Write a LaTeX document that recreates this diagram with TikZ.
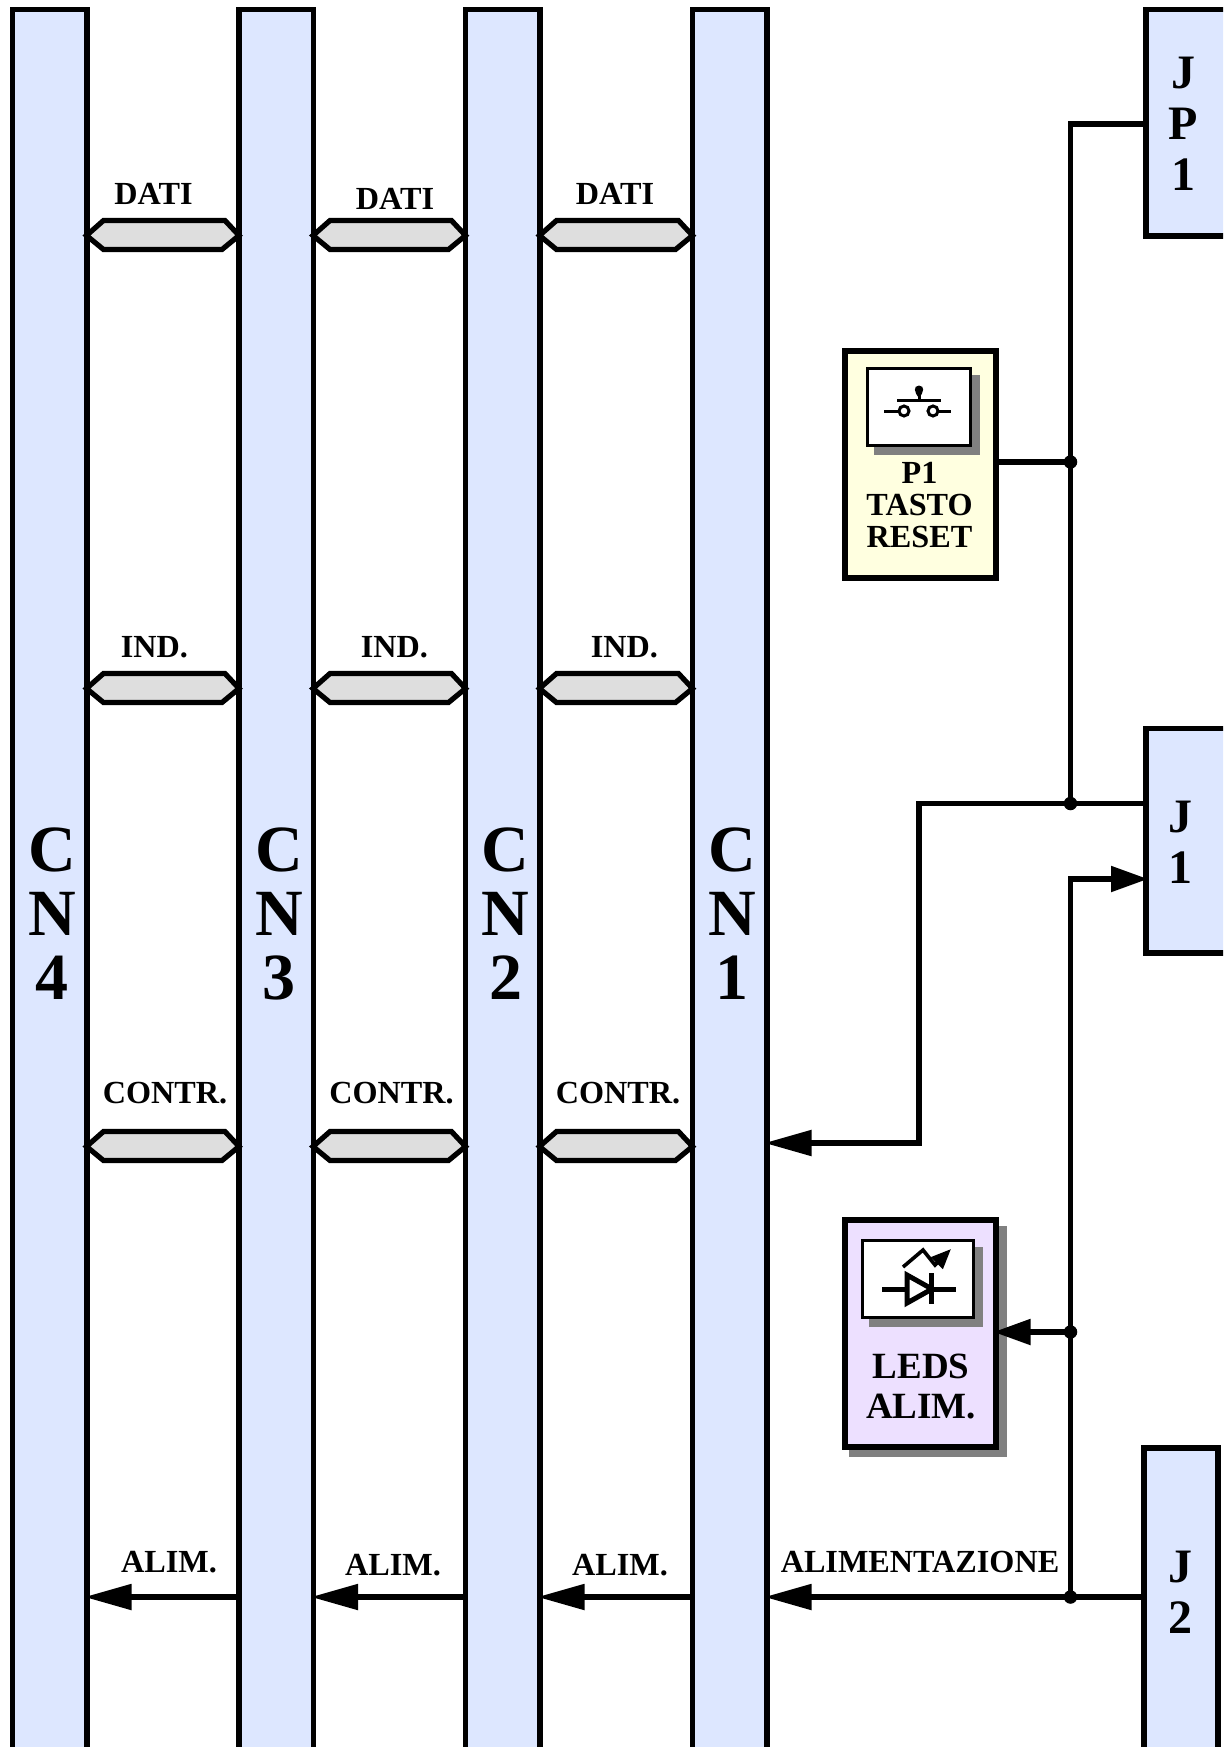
\documentclass[tikz,border=0pt]{standalone}
\usepackage{fontspec}
\setmainfont{Liberation Serif}[BoldFont={Liberation Serif Bold}]
\usetikzlibrary{arrows.meta,calc}
\definecolor{barblue}{HTML}{DDE7FF}
\definecolor{busgray}{HTML}{DEDEDE}
\definecolor{keyyellow}{HTML}{FFFFE0}
\definecolor{ledviolet}{HTML}{EDE0FF}
\definecolor{shadowgray}{HTML}{808080}
\newcommand\busbar[3]{\draw[busshape] ($(#1.east |- 0,#3)+(-3,0)$) -- ++(17,-15) -- ($(#2.west |- 0,#3)+(-14,-15)+(3,0)$) -- ($(#2.west |- 0,#3)+(3,0)$) -- ++(-17,14) -- ($(#1.east |- 0,#3)+(14,14)$) -- cycle;}
\tikzset{
  x=1pt,y=-1pt,
  barbox/.style={draw=black,line width=5.5pt,fill=barblue,inner sep=0pt,anchor=north west},
  panelbox/.style={draw=black,line width=5.5pt,inner sep=0pt,anchor=north west},
  iconbox/.style={draw=black,line width=2.8pt,fill=white,inner sep=0pt,anchor=north west},
  busshape/.style={draw=black,line width=5.2pt,fill=busgray,line join=miter},
  wire/.style={draw=black,line width=5.2pt,line join=miter},
  longarrow/.style={wire,shorten >=-5pt,-{Triangle[length=47pt,width=25pt]}},
  shortarrow/.style={wire,shorten >=-5pt,-{Triangle[length=37pt,width=25pt]}},
  junction/.style={circle,fill=black,inner sep=0pt,minimum size=13.5pt},
  smalltxt/.style={font=\fontsize{32.2}{32}\selectfont\bfseries,inner sep=0pt,align=center},
  bigtxt/.style={font=\fontsize{66}{64}\selectfont\bfseries,inner sep=0pt,align=center},
  midtxt/.style={font=\fontsize{48}{51}\selectfont\bfseries,inner sep=0pt,align=center},
  ledtxt/.style={font=\fontsize{37}{40}\selectfont\bfseries,inner sep=0pt,align=center},
  symline/.style={draw=black,line width=3pt},
  symthick/.style={draw=black,line width=5pt},
}
\begin{document}
\begin{tikzpicture}
\clip (0,0) rectangle (1223,1747);
\fill[white] (0,0) rectangle (1223,1747);
% connector bars
\node[barbox,minimum width=74.5pt,minimum height=1742pt] (cn4) at (9.5,7) {};
\node[barbox,minimum width=74.5pt,minimum height=1742pt] (cn3) at (236,7) {};
\node[barbox,minimum width=74.5pt,minimum height=1742pt] (cn2) at (462.5,7) {};
\node[barbox,minimum width=74.5pt,minimum height=1742pt] (cn1) at (689.5,7) {};
\node[bigtxt] (cn4t) at (52,914) {C\\N\\4};
\node[bigtxt] (cn3t) at (279,914) {C\\N\\3};
\node[bigtxt] (cn2t) at (505.5,914) {C\\N\\2};
\node[bigtxt] (cn1t) at (732,914) {C\\N\\1};
% right connectors
\node[barbox,minimum width=90pt,minimum height=226pt] (jp1) at (1143,7) {};
\node[barbox,minimum width=90pt,minimum height=224.5pt] (j1) at (1143,725.5) {};
\node[barbox,minimum width=74pt,minimum height=320pt] (j2) at (1141,1445) {};
\node[midtxt] (jp1t) at (1183.5,124) {J\\P\\1};
\node[midtxt] (j1t) at (1180.5,842.5) {J\\1};
\node[midtxt] (j2t) at (1180.5,1592.5) {J\\2};
% buses
\busbar{cn4}{cn3}{235.5}
\busbar{cn3}{cn2}{235.5}
\busbar{cn2}{cn1}{235.5}
\busbar{cn4}{cn3}{688.5}
\busbar{cn3}{cn2}{688.5}
\busbar{cn2}{cn1}{688.5}
\busbar{cn4}{cn3}{1146.5}
\busbar{cn3}{cn2}{1146.5}
\busbar{cn2}{cn1}{1146.5}
% bus labels
\node[smalltxt] (d1) at (153.5,194) {DATI};
\node[smalltxt] (d2) at (395,199) {DATI};
\node[smalltxt] (d3) at (615,194) {DATI};
\node[smalltxt] (i1) at (154.5,647) {IND.};
\node[smalltxt] (i2) at (394.5,647) {IND.};
\node[smalltxt] (i3) at (624.5,647) {IND.};
\node[smalltxt] (c1) at (165,1093) {CONTR.};
\node[smalltxt] (c2) at (391.5,1093) {CONTR.};
\node[smalltxt] (c3) at (618,1093) {CONTR.};
\node[smalltxt] (a1) at (169,1562.5) {ALIM.};
\node[smalltxt] (a2) at (393,1565) {ALIM.};
\node[smalltxt] (a3) at (620,1565) {ALIM.};
\node[smalltxt] (a4) at (920,1562) {ALIMENTAZIONE};
% panels
\node[panelbox,fill=keyyellow,minimum width=151pt,minimum height=227pt] (p1) at (842,348) {};
\fill[shadowgray] (1007,1226) rectangle (849,1457);
\node[panelbox,fill=ledviolet,minimum width=151pt,minimum height=227pt] (led) at (842,1217) {};
% key icon
\fill[shadowgray] (874,375) rectangle (980,455);
\node[iconbox,minimum width=103.4pt,minimum height=77.4pt] (keyicon) at (866,367) {};
\draw[symline] (884,411) -- (898,411);
\draw[symline] (939,411) -- (951,411);
\draw[symline] (904,411) circle (5pt);
\draw[symline] (933,411) circle (5pt);
\draw[symline] (897,400) -- (941,400);
\draw[symline] (919,400) -- (919,392);
\fill[black] (919,385.5) .. controls (913,386) and (914,392) .. (919,398) .. controls (924,392) and (925,386) .. (919,385.5) -- cycle;
\node[smalltxt] (p1t) at (919.5,505.5) {P1\\TASTO\\RESET};
% led icon
\fill[shadowgray] (869,1247) rectangle (983,1327);
\node[iconbox,minimum width=111.4pt,minimum height=77pt] (ledicon) at (861,1239) {};
\draw[symthick] (882,1289) -- (956,1289);
\draw[symthick,fill=white,line join=miter] (907,1275) -- (932,1289) -- (907,1303) -- cycle;
\draw[symthick] (931,1273) -- (931,1304);
\draw[symline,line width=3.6pt,-{Triangle[length=20pt,width=16pt]}] (903,1267) -- (923,1250) -- (935,1265) -- (951,1249);
\node[ledtxt] (ledt) at (921,1386) {LEDS\\ALIM.};
% wires
\coordinate (vtop) at (1070.5,124);
\coordinate (jkey) at (1070.5,462);
\coordinate (jj1) at (1070.5,803.5);
\coordinate (knee) at (919,803.5);
\coordinate (kneeb) at (919,1143);
\coordinate (vj1) at (1070.5,879);
\coordinate (jled) at (1070.5,1332);
\coordinate (jj2) at (1070.5,1597);
\draw[wire] (jp1.west |- vtop) -- (vtop) -- (jj1);
\draw[wire] (p1.east |- jkey) -- (jkey);
\draw[longarrow] (j1.west |- jj1) -- (knee) -- (kneeb) -- (cn1.east |- kneeb);
\draw[shortarrow] (jj2) -- (vj1) -- (j1.west |- vj1);
\draw[shortarrow] (jled) -- (led.east |- jled);
\draw[longarrow] (j2.west |- jj2) -- (cn1.east |- jj2);
\draw[longarrow] (cn1.west |- jj2) -- (cn2.east |- jj2);
\draw[longarrow] (cn2.west |- jj2) -- (cn3.east |- jj2);
\draw[longarrow] (cn3.west |- jj2) -- (cn4.east |- jj2);
\node[junction] (dotkey) at (jkey) {};
\node[junction] (dotj1) at (jj1) {};
\node[junction] (dotled) at (jled) {};
\node[junction] (dotj2) at (jj2) {};
\end{tikzpicture}
\end{document}
